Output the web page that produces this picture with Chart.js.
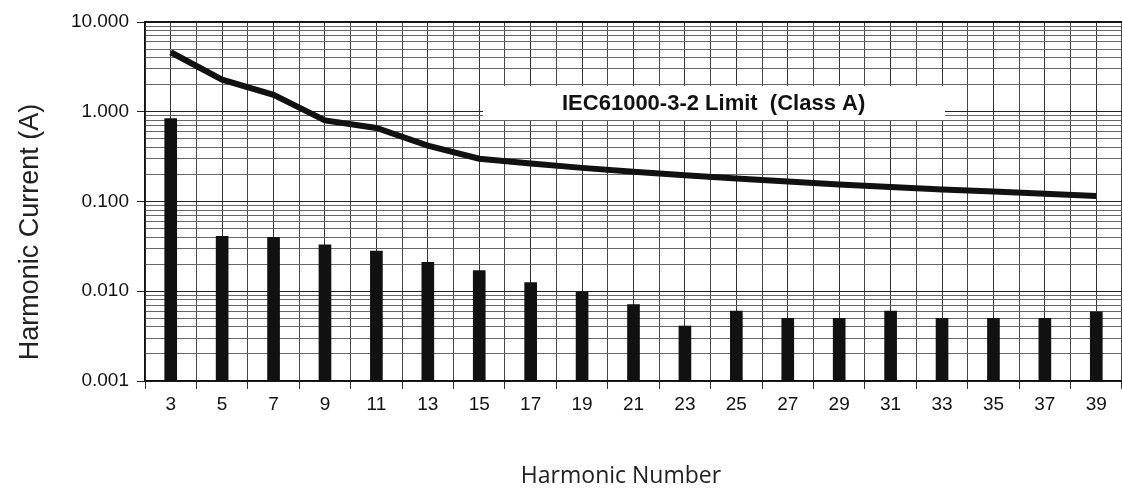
<!DOCTYPE html>
<html>
<head>
<meta charset="utf-8">
<title>Harmonic current vs IEC61000-3-2 limit</title>
<script src="https://cdn.jsdelivr.net/npm/chart.js@4.4.1/dist/chart.umd.min.js"></script>
<style>
  html, body { margin: 0; padding: 0; background: #fff; }
  #wrap { position: relative; width: 1122px; height: 491px; }
</style>
</head>
<body>
<div id="wrap"><canvas id="harmonicChart"></canvas></div>
<script>
const harmonicNumbers = ['3', '5', '7', '9', '11', '13', '15', '17', '19', '21', '23', '25', '27', '29', '31', '33', '35', '37', '39'];
const measuredCurrent = [0.84, 0.041, 0.040, 0.033, 0.028, 0.021, 0.017, 0.0125, 0.0097, 0.0071, 0.0041, 0.0060, 0.0050, 0.0050, 0.0060, 0.0050, 0.0050, 0.0050, 0.0059];
const classALimit = [4.6, 2.28, 1.54, 0.80, 0.66, 0.42, 0.30, 0.265, 0.237, 0.214, 0.196, 0.18, 0.167, 0.155, 0.145, 0.136, 0.129, 0.122, 0.115];
const yTickValues = [0.001, 0.01, 0.1, 1, 10];
const yTickLabels = ['0.001', '0.010', '0.100', '1.000', '10.000'];
const gridSteps = [1, 2, 3, 4, 5, 6, 7, 8, 9];

const INK = '#111';
const TICK_FONT = { family: '"Liberation Sans", Arial, sans-serif', size: 19 };

function isDecade(v) {
  return yTickValues.some((d) => Math.abs(v - d) / d < 1e-6);
}

function labelFor(v) {
  const i = yTickValues.findIndex((d) => Math.abs(v - d) / d < 1e-6);
  return i >= 0 ? yTickLabels[i] : '';
}

// white box with the limit name, plus both axis titles
const annotations = {
  id: 'annotations',
  beforeDatasetsDraw(chart) {
    const { ctx } = chart;
    ctx.save();
    ctx.fillStyle = '#fff';
    ctx.fillRect(483, 86, 462, 34);
    ctx.fillStyle = INK;
    ctx.font = 'bold 22px "Liberation Sans", Arial, sans-serif';
    ctx.textBaseline = 'middle';
    ctx.textAlign = 'left';
    ctx.fillText('IEC61000-3-2 Limit  (Class A)', 562, 104);
    ctx.restore();
  },
  afterDraw(chart) {
    const { ctx } = chart;
    ctx.save();
    ctx.fillStyle = '#222';
    ctx.textAlign = 'center';
    ctx.textBaseline = 'middle';
    ctx.font = '23px "Open Sans", sans-serif';
    ctx.fillText('Harmonic Number', 621, 476);
    ctx.translate(31, 232);
    ctx.rotate(-Math.PI / 2);
    ctx.font = '27px "Liberation Sans", Arial, sans-serif';
    ctx.fillText('Harmonic Current (A)', 0, 0);
    ctx.restore();
  },
};

new Chart(document.getElementById('harmonicChart'), {
  data: {
    labels: harmonicNumbers,
    datasets: [
      {
        type: 'line',
        label: 'IEC61000-3-2 Limit (Class A)',
        data: classALimit,
        borderColor: INK,
        borderWidth: 6,
        pointRadius: 0,
        tension: 0,
        order: 0,
      },
      {
        type: 'bar',
        label: 'Harmonic current',
        data: measuredCurrent,
        backgroundColor: INK,
        barThickness: 12,
        order: 1,
      },
    ],
  },
  options: {
    responsive: true,
    maintainAspectRatio: false,
    animation: false,
    layout: { padding: 0 },
    plugins: {
      legend: { display: false },
      tooltip: { enabled: false },
    },
    scales: {
      x: {
        position: 'bottom',
        offset: true,
        grid: { offset: true, color: '#444', tickLength: 8, tickColor: '#333' },
        border: { color: INK, width: 1.5 },
        ticks: { color: INK, font: TICK_FONT, padding: 4, maxRotation: 0 },
        afterFit: (scale) => { scale.height = 110; },
      },
      xc: {
        position: 'top',
        offset: true,
        labels: harmonicNumbers,
        grid: { offset: false, color: '#333', drawTicks: false },
        border: { color: INK, width: 1.5 },
        ticks: { display: false },
        afterFit: (scale) => { scale.height = 22; },
      },
      y: {
        type: 'logarithmic',
        min: 0.001,
        max: 10,
        afterBuildTicks: (scale) => {
          const ticks = [];
          for (let e = -3; e < 1; e++) {
            gridSteps.forEach((s) => ticks.push({ value: s * Math.pow(10, e) }));
          }
          ticks.push({ value: 10 });
          scale.ticks = ticks;
        },
        grid: {
          color: (c) => (c.tick && isDecade(c.tick.value) ? '#222' : '#666'),
          tickColor: (c) => (c.tick && isDecade(c.tick.value) ? '#222' : 'rgba(0,0,0,0)'),
          tickLength: 8,
        },
        border: { color: INK, width: 1.5 },
        ticks: {
          autoSkip: false,
          color: INK,
          font: TICK_FONT,
          padding: 8,
          callback: (v) => labelFor(v),
        },
        afterFit: (scale) => { scale.width = 145; },
      },
    },
  },
  plugins: [annotations],
});
</script>
</body>
</html>
